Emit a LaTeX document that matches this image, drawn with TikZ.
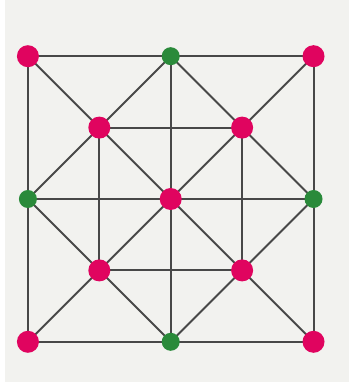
\documentclass[tikz,border=0pt]{standalone}
\usetikzlibrary{backgrounds}
\definecolor{paper}{HTML}{F2F2EF}
\definecolor{berry}{HTML}{E0045F}
\definecolor{leaf}{HTML}{2A8A3A}
\definecolor{wire}{HTML}{484848}
\tikzset{
  pink/.style={circle,fill=berry,inner sep=0pt,minimum size=22pt},
  green/.style={circle,fill=leaf,inner sep=0pt,minimum size=18pt},
  edge/.style={draw=wire,line width=2pt}
}
\begin{document}
\begin{tikzpicture}[x=71.4pt,y=71.4pt]
\useasboundingbox (-2.391,2.787) rectangle (2.497,-2.577);

% points of the board
\foreach \n/\x/\y/\s in {tl/-2/2/pink, tm/0/2/green, tr/2/2/pink,
    ml/-2/0/green, mm/0/0/pink, mr/2/0/green,
    bl/-2/-2/pink, bm/0/-2/green, br/2/-2/pink,
    itl/-1/1/pink, itr/1/1/pink, ibl/-1/-1/pink, ibr/1/-1/pink}
    \node[\s] (\n) at (\x,\y) {};

% paper and lines, behind the points
\begin{scope}[on background layer]
\fill[white] (-2.391,2.787) rectangle (2.497,-2.577);
\fill[paper] (-2.32,2.787) rectangle (2.497,-2.56);
\foreach \a/\b in {tl/tm, tm/tr, tr/mr, mr/br, br/bm, bm/bl, bl/ml, ml/tl,
    tm/mm, mm/bm, ml/mm, mm/mr,
    tl/itl, itl/mm, mm/ibr, ibr/br, tr/itr, itr/mm, mm/ibl, ibl/bl,
    tm/itl, itl/ml, ml/ibl, ibl/bm, bm/ibr, ibr/mr, mr/itr, itr/tm,
    itl/itr, itr/ibr, ibr/ibl, ibl/itl}
    \draw[edge] (\a.center) -- (\b.center);
\end{scope}
\end{tikzpicture}
\end{document}
